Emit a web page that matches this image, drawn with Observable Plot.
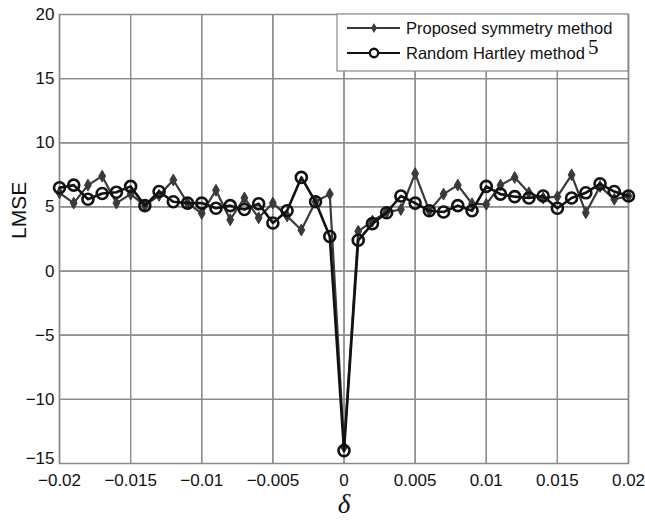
<!DOCTYPE html>
<html>
<head>
<meta charset="utf-8">
<script src="https://cdn.jsdelivr.net/npm/d3@7"></script>
<script src="https://cdn.jsdelivr.net/npm/@observablehq/plot@0.6"></script>
<style>
  html, body { margin: 0; padding: 0; background: #fff; }
  #chart { position: relative; width: 645px; height: 524px; }
</style>
</head>
<body>
<div id="chart"></div>
<script>
const delta = [-0.020,-0.019,-0.018,-0.017,-0.016,-0.015,-0.014,-0.013,-0.012,-0.011,
  -0.010,-0.009,-0.008,-0.007,-0.006,-0.005,-0.004,-0.003,-0.002,-0.001,
  0,
  0.001,0.002,0.003,0.004,0.005,0.006,0.007,0.008,0.009,0.010,
  0.011,0.012,0.013,0.014,0.015,0.016,0.017,0.018,0.019,0.020];

const proposed = [6.1,5.3,6.7,7.4,5.3,6.0,5.1,5.9,7.1,5.3,
  4.5,6.3,4.0,5.7,4.15,5.3,4.3,3.2,5.4,6.0,
  -13.7,
  3.1,3.9,4.6,4.8,7.6,4.7,6.0,6.7,5.25,5.2,
  6.7,7.3,6.1,5.7,5.8,7.5,4.55,6.6,5.6,5.85];

const hartley = [6.5,6.7,5.6,6.05,6.15,6.6,5.1,6.2,5.4,5.3,
  5.3,4.9,5.1,4.8,5.25,3.75,4.7,7.3,5.4,2.7,
  -14.0,
  2.4,3.7,4.55,5.85,5.3,4.7,4.6,5.1,4.7,6.6,
  6.0,5.8,5.7,5.85,4.9,5.7,6.1,6.8,6.2,5.85];

const xTicks = [-0.02,-0.015,-0.01,-0.005,0,0.005,0.01,0.015,0.02];
const yTicks = [-15,-10,-5,0,5,10,15,20];
const seriesNames = ["Proposed symmetry method", "Random Hartley method"];

const dataP = delta.map((d, i) => ({x: d, y: proposed[i]}));
const dataH = delta.map((d, i) => ({x: d, y: hartley[i]}));

const fmtX = d => d === 0 ? "0" : (d < 0 ? "\u2212" : "") + String(+Math.abs(d).toFixed(3));
const fmtY = d => (d < 0 ? "\u2212" : "") + Math.abs(d);

const W = 645, H = 524;
const mL = 59, mR = 17, mT = 14, mB = 61;

const plot = Plot.plot({
  width: W, height: H,
  marginLeft: mL, marginRight: mR, marginTop: mT, marginBottom: mB,
  style: {fontFamily: "Liberation Sans, Arial, sans-serif", fontSize: "17px", color: "#111", background: "#fff"},
  x: {domain: [-0.02, 0.02], ticks: xTicks},
  y: {domain: [-15, 20], ticks: yTicks},
  marks: [
    Plot.ruleX(xTicks, {x: d => d, stroke: "#666", strokeOpacity: 1, strokeDasharray: "1,3", strokeWidth: 1}),
    Plot.ruleY(yTicks, {y: d => d, stroke: "#666", strokeOpacity: 1, strokeDasharray: "1,3", strokeWidth: 1}),
    Plot.frame({stroke: "#8a8a8a", strokeWidth: 1.5}),
    Plot.axisX(xTicks, {tickFormat: fmtX, tickSize: 0, tickPadding: 10, fontSize: 17, label: null}),
    Plot.axisY(yTicks.filter(d => d !== -15), {tickFormat: fmtY, tickSize: 0, tickPadding: 5, fontSize: 17, label: null}),
    Plot.axisY([-15], {tickFormat: fmtY, tickSize: 0, tickPadding: 5, fontSize: 17, label: null, dy: -5}),
    Plot.tickX(xTicks, {x: d => d, y1: -15, y2: -14.55, stroke: "#8a8a8a", strokeWidth: 1.2}),
    Plot.tickX(xTicks, {x: d => d, y1: 20, y2: 19.55, stroke: "#8a8a8a", strokeWidth: 1.2}),
    Plot.tickY(yTicks, {y: d => d, x1: -0.02, x2: -0.0196, stroke: "#8a8a8a", strokeWidth: 1.2}),
    Plot.tickY(yTicks, {y: d => d, x1: 0.02, x2: 0.0196, stroke: "#8a8a8a", strokeWidth: 1.2}),
    Plot.line(dataP, {x: "x", y: "y", stroke: "#3a3a3a", strokeWidth: 2.2}),
    Plot.dot(dataP, {x: "x", y: "y", symbol: "diamond", r: 3.6, fill: "#3a3a3a", stroke: "#3a3a3a", strokeWidth: 1}),
    Plot.line(dataH, {x: "x", y: "y", stroke: "#111", strokeWidth: 2.6}),
    Plot.dot(dataH, {x: "x", y: "y", r: 5.5, fill: "none", stroke: "#111", strokeWidth: 2.6}),
    Plot.text(["LMSE"], {frameAnchor: "left", dx: -40, rotate: -90, fontSize: 21, fill: "#111", text: d => d}),
    Plot.text(["\u03B4"], {frameAnchor: "bottom", dy: 49, fontSize: 27, fontFamily: "Liberation Serif, DejaVu Serif, serif", fontStyle: "italic", fill: "#111", text: d => d})
  ]
});

document.getElementById("chart").appendChild(plot);

const svg = d3.select(plot);

// Legend (drawn in the SVG)
const lg = svg.append("g").attr("font-family", "Liberation Sans, Arial, sans-serif").attr("text-anchor", "start");
const bx = 337, by = 14, bw = W - mR - bx, bh = 57;
lg.append("rect").attr("x", bx).attr("y", by).attr("width", bw).attr("height", bh)
  .attr("fill", "#fff").attr("stroke", "#8a8a8a").attr("stroke-width", 1.2);
const rows = [
  {name: seriesNames[0], y: 28, color: "#3a3a3a", kind: "diamond"},
  {name: seriesNames[1], y: 53, color: "#111", kind: "circle"}
];
rows.forEach(r => {
  lg.append("line").attr("x1", 347).attr("x2", 400).attr("y1", r.y).attr("y2", r.y)
    .attr("stroke", r.color).attr("stroke-width", 2.2);
  if (r.kind === "diamond") {
    lg.append("path").attr("d", d3.symbol(d3.symbolDiamond, 30)()).attr("transform", `translate(374,${r.y})`)
      .attr("fill", r.color);
  } else {
    lg.append("circle").attr("cx", 374).attr("cy", r.y).attr("r", 4.2).attr("fill", "#fff")
      .attr("stroke", r.color).attr("stroke-width", 2.4);
  }
  lg.append("text").attr("x", 406).attr("y", r.y).attr("dy", "0.35em").style("font-size", "16.5px")
    .attr("fill", "#111").text(r.name);
});
lg.append("text").attr("x", 588).attr("y", 54).style("font-size", "21px")
  .attr("font-family", "Liberation Serif, Times New Roman, serif").attr("fill", "#111").text("5");
</script>
</body>
</html>
